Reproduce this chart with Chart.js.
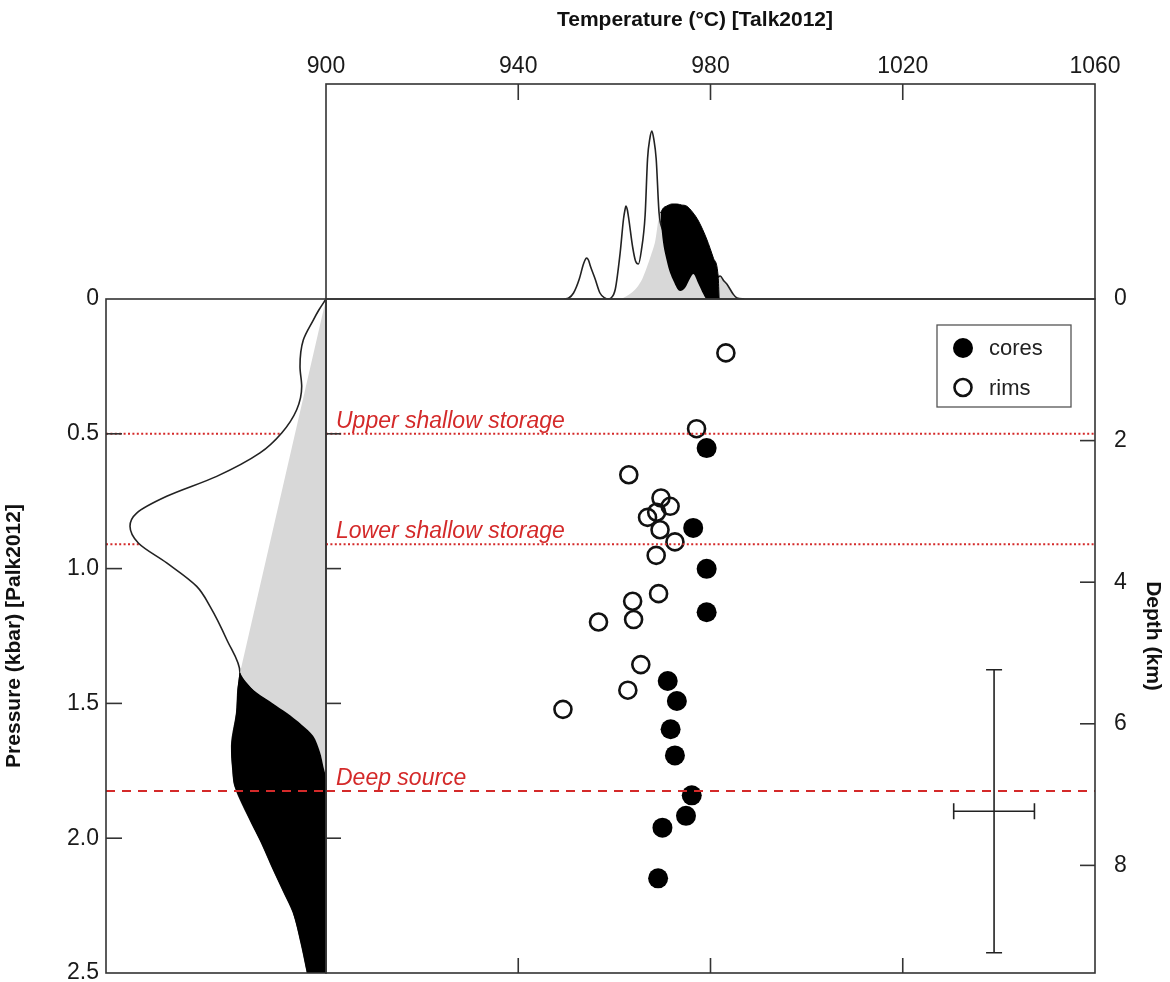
<!DOCTYPE html>
<html>
<head>
<meta charset="utf-8">
<script src="https://cdn.jsdelivr.net/npm/chart.js@4.4.0/dist/chart.umd.min.js"></script>
<style>
  body { margin: 0; background: #fff; }
  #wrap { position: relative; width: 1170px; height: 982px; }
  #wrap canvas { position: absolute; }
</style>
</head>
<body>
<div id="wrap">
  <canvas id="topChart" width="950" height="300" style="left:220px;top:0px"></canvas>
  <canvas id="leftChart" width="330" height="702" style="left:0px;top:280px"></canvas>
  <canvas id="mainChart" width="870" height="702" style="left:300px;top:280px"></canvas>
</div>
<script>
// axis ticks
const tempTicks = [900, 940, 980, 1020, 1060];
const pressureTicks = [0, 0.5, 1.0, 1.5, 2.0, 2.5];
const depthTicks = [0, 2, 4, 6, 8];
const depthMax = 9.52; // depth (km) at 2.5 kbar

// scatter points: temperature (°C) and pressure (kbar)
const coreT = [979.2, 976.4, 979.2, 979.2, 971.1, 973.0, 971.7, 972.6, 976.1, 974.9, 970.0, 969.1];
const coreP = [0.553, 0.849, 1.001, 1.162, 1.417, 1.491, 1.596, 1.693, 1.841, 1.917, 1.961, 2.149];
const rimT = [983.2, 977.1, 963.0, 969.7, 971.6, 966.9, 968.8, 969.5, 972.6, 968.7, 969.2, 963.8, 964.0, 956.7, 965.5, 962.8, 949.3];
const rimP = [0.200, 0.481, 0.652, 0.738, 0.769, 0.810, 0.791, 0.856, 0.901, 0.951, 1.093, 1.121, 1.189, 1.198, 1.356, 1.451, 1.522];

// storage levels (kbar)
const levelP = [0.5, 0.91, 1.825];
const levelNames = ['Upper shallow storage', 'Lower shallow storage', 'Deep source'];
const levelKind = ['dotted', 'dotted', 'dashed'];

// typical uncertainty: centre (°C, kbar) and half widths
const errCentre = [1039, 1.9];
const errHalf = [8.4, 0.525];

// top panel: temperature densities (height in panel units)
const rimDensT = [949.5, 950.5, 951.5, 952.7, 953.5, 953.9, 954.2, 954.6, 955.0, 956.0, 957.0, 958.0, 958.7, 959.3, 960.2, 961.2, 961.9, 962.2, 962.4, 962.7, 963.0, 963.8, 964.4, 965.0, 965.6, 966.4, 966.9, 967.4, 967.8, 968.2, 968.7, 969.3, 970.0, 972.0, 975.0, 978.0, 980.5, 981.5, 982.0, 982.8, 983.4, 984.7, 985.5, 987.0];
const rimDensH = [0, 1, 6, 20, 34, 39, 41, 39, 33, 20, 6, 1, 0, 1, 10, 46, 80, 89, 93, 89, 80, 52, 38, 35, 48, 84, 140, 161, 168, 160, 140, 86, 70, 58, 48, 35, 22, 22, 23, 18, 15, 5, 1, 0];
const coreDensT = [969.6, 970.2, 970.9, 972.0, 973.0, 974.0, 975.0, 976.4, 977.5, 979.2, 980.6, 981.6, 981.8];
const coreDensH = [86, 91, 93, 95, 95, 94, 93, 86, 78, 60, 41, 22, 0];
const coreBaseT = [969.6, 969.85, 970.9, 972.3, 973.7, 974.7, 975.8, 976.4, 977.5, 978.5, 979.2, 981.8];
const coreBaseH = [86, 68, 38, 18, 8, 11, 21, 25, 15, 5, 0, 0];
const allDensT = [961.5, 963.5, 964.6, 965.8, 966.7, 967.7, 968.5, 969.4, 971.0, 975.0, 979.0, 981.0, 982.0, 983.4, 984.7, 986.1];
const allDensH = [0, 6, 11, 20, 31, 45, 58, 85, 92, 90, 55, 30, 23, 15, 5, 0];

// left panel: pressure densities (width in panel units)
const rimPresP = [0, 0.04, 0.078, 0.152, 0.25, 0.325, 0.411, 0.497, 0.571, 0.658, 0.732, 0.794, 0.843, 0.905, 0.979, 1.066, 1.14, 1.263, 1.386, 1.45, 1.535, 1.658, 1.75, 1.806, 1.93, 2.02, 2.115, 2.2, 2.275, 2.385, 2.485, 2.5];
const rimPresW = [0, 7, 12.7, 22.7, 26, 24.3, 29.3, 44.3, 66, 109.3, 159.3, 189.3, 196, 187.7, 159.3, 129.3, 116, 99.3, 86, 88, 89.3, 94.3, 93, 91, 76, 64, 52.7, 42, 32.7, 25, 19.3, 18.5];
const corePresP = [1.386, 1.45, 1.535, 1.658, 1.75, 1.806, 1.93, 2.02, 2.115, 2.2, 2.275, 2.385, 2.485, 2.5];
const corePresW = [86, 88, 89.3, 94.3, 93, 91, 76, 64, 52.7, 42, 32.7, 25, 19.3, 18.5];
const coreEdgeP = [1.386, 1.42, 1.46, 1.5, 1.535, 1.58, 1.621, 1.68, 1.732, 1.781, 2.5];
const coreEdgeW = [86, 80, 69.3, 53, 39.3, 24, 12.7, 6, 2.7, 0, 0];
const allPresP = [0, 1.386, 1.42, 1.46, 1.5, 1.535, 1.58, 1.621, 1.68, 1.732, 1.781];
const allPresW = [0, 86, 80, 69.3, 53, 39.3, 24, 12.7, 6, 2.7, 0];

const FONT = "'Liberation Sans', Arial, Helvetica, sans-serif";
const AXIS = '#333';
const RED = '#d42a2a';
const GREY = '#d8d8d8';
Chart.defaults.font.family = FONT;
Chart.defaults.color = '#1a1a1a';

function pts(xs, ys) {
    return xs.map((x, i) => ({x: x, y: ys[i]}));
}

// keep plot areas exactly where the layout padding puts them
function noPad(s) {
    s.paddingTop = 0;
    s.paddingBottom = 0;
    s.paddingLeft = 0;
    s.paddingRight = 0;
}

// box round the plot area plus ticks pointing inwards
function makeFrame(tickSpecs) {
    return {
        id: 'frame',
        afterDraw(chart) {
            const a = chart.chartArea, ctx = chart.ctx;
            ctx.save();
            ctx.strokeStyle = AXIS;
            ctx.lineWidth = 1.6;
            ctx.strokeRect(a.left, a.top, a.right - a.left, a.bottom - a.top);
            tickSpecs.forEach(t => {
                const s = chart.scales[t.scale];
                t.values.forEach(v => {
                    const p = s.getPixelForValue(v);
                    ctx.beginPath();
                    if (t.side === 'top') { ctx.moveTo(p, a.top); ctx.lineTo(p, a.top + t.len); }
                    else if (t.side === 'bottom') { ctx.moveTo(p, a.bottom); ctx.lineTo(p, a.bottom - t.len); }
                    else if (t.side === 'left') { ctx.moveTo(a.left, p); ctx.lineTo(a.left + t.len, p); }
                    else { ctx.moveTo(a.right, p); ctx.lineTo(a.right - t.len, p); }
                    ctx.stroke();
                });
            });
            ctx.restore();
        }
    };
}

function drawLevel(chart, i, withLabel) {
    const a = chart.chartArea, ctx = chart.ctx;
    const y = chart.scales.y.getPixelForValue(levelP[i]);
    ctx.save();
    ctx.strokeStyle = RED;
    ctx.lineWidth = 2;
    ctx.setLineDash(levelKind[i] === 'dashed' ? [9, 7] : [2, 2.4]);
    ctx.beginPath();
    ctx.moveTo(a.left, y);
    ctx.lineTo(a.right, y);
    ctx.stroke();
    if (withLabel) {
        ctx.setLineDash([]);
        ctx.fillStyle = RED;
        ctx.font = 'italic 23px ' + FONT;
        ctx.textBaseline = 'alphabetic';
        ctx.fillText(levelNames[i], a.left + 10, y - 6);
    }
    ctx.restore();
}

// left panel: dotted lines go under the densities, dashed one over them
const leftLevels = {
    id: 'leftLevels',
    beforeDatasetsDraw(chart) {
        levelP.forEach((p, i) => { if (levelKind[i] === 'dotted') drawLevel(chart, i, false); });
    },
    afterDatasetsDraw(chart) {
        levelP.forEach((p, i) => { if (levelKind[i] === 'dashed') drawLevel(chart, i, false); });
    }
};

const mainLevels = {
    id: 'mainLevels',
    afterDatasetsDraw(chart) {
        levelP.forEach((p, i) => drawLevel(chart, i, true));
    }
};

const errorCross = {
    id: 'errorCross',
    afterDatasetsDraw(chart) {
        const ctx = chart.ctx, xs = chart.scales.x, ys = chart.scales.y;
        const cx = xs.getPixelForValue(errCentre[0]);
        const cy = ys.getPixelForValue(errCentre[1]);
        const x0 = xs.getPixelForValue(errCentre[0] - errHalf[0]);
        const x1 = xs.getPixelForValue(errCentre[0] + errHalf[0]);
        const y0 = ys.getPixelForValue(errCentre[1] - errHalf[1]);
        const y1 = ys.getPixelForValue(errCentre[1] + errHalf[1]);
        const cap = 8;
        ctx.save();
        ctx.strokeStyle = '#222';
        ctx.lineWidth = 1.6;
        ctx.beginPath();
        ctx.moveTo(cx, y0); ctx.lineTo(cx, y1);
        ctx.moveTo(cx - cap, y0); ctx.lineTo(cx + cap, y0);
        ctx.moveTo(cx - cap, y1); ctx.lineTo(cx + cap, y1);
        ctx.moveTo(x0, cy); ctx.lineTo(x1, cy);
        ctx.moveTo(x0, cy - cap); ctx.lineTo(x0, cy + cap);
        ctx.moveTo(x1, cy - cap); ctx.lineTo(x1, cy + cap);
        ctx.stroke();
        ctx.restore();
    }
};

const legendBox = {
    id: 'legendBox',
    afterDraw(chart) {
        const a = chart.chartArea, ctx = chart.ctx;
        const L = a.right - 158, T = a.top + 26;
        ctx.save();
        ctx.strokeStyle = '#555';
        ctx.lineWidth = 1.3;
        ctx.strokeRect(L, T, 134, 82);
        ctx.font = '22px ' + FONT;
        ctx.textBaseline = 'middle';
        chart.data.datasets.forEach((ds, i) => {
            const cy = T + 23 + i * 39.5;
            ctx.beginPath();
            ctx.arc(L + 26, cy, ds.pointRadius, 0, Math.PI * 2);
            if (ds.borderWidth) {
                ctx.lineWidth = ds.borderWidth;
                ctx.strokeStyle = ds.borderColor;
                ctx.stroke();
            } else {
                ctx.fillStyle = ds.backgroundColor;
                ctx.fill();
            }
            ctx.fillStyle = '#222';
            ctx.fillText(ds.label, L + 52, cy + 1);
        });
        ctx.restore();
    }
};

const common = {
    responsive: false,
    animation: false,
    events: []
};

// top panel: temperature distributions
new Chart(document.getElementById('topChart'), {
    type: 'line',
    data: {
        datasets: [
            { label: 'cores', data: pts(coreDensT, coreDensH), fill: '+1', backgroundColor: '#000', borderColor: '#000', borderWidth: 1, pointRadius: 0, cubicInterpolationMode: 'monotone' },
            { label: 'cores base', data: pts(coreBaseT, coreBaseH), fill: false, borderWidth: 0, borderColor: 'rgba(0,0,0,0)', pointRadius: 0, cubicInterpolationMode: 'monotone' },
            { label: 'rims', data: pts(rimDensT, rimDensH), fill: false, borderColor: '#222', borderWidth: 1.6, pointRadius: 0, cubicInterpolationMode: 'monotone' },
            { label: 'all', data: pts(allDensT, allDensH), fill: 'origin', backgroundColor: GREY, borderWidth: 0, borderColor: 'rgba(0,0,0,0)', pointRadius: 0, cubicInterpolationMode: 'monotone' }
        ]
    },
    options: {
        ...common,
        layout: { autoPadding: false, padding: { left: 75, right: 75, top: 0, bottom: 1 } },
        plugins: {
            legend: { display: false },
            tooltip: { enabled: false },
            title: {
                display: true,
                text: 'Temperature (°C) [Talk2012]',
                color: '#111',
                font: { size: 21, weight: 'bold' },
                padding: { top: 8, bottom: 6 }
            }
        },
        scales: {
            x: {
                type: 'linear', position: 'top', min: 900, max: 1060,
                afterBuildTicks: s => { s.ticks = tempTicks.map(v => ({value: v})); },
                ticks: { font: { size: 23 }, color: '#1a1a1a', padding: 4, callback: v => String(v) },
                grid: { display: false, drawTicks: false },
                border: { display: false },
                afterFit: s => { s.height = 44.8; noPad(s); }
            },
            y: {
                type: 'linear', min: 0, max: 215,
                ticks: { display: false },
                grid: { display: false, drawTicks: false },
                border: { display: false },
                afterFit: s => { s.width = 31; noPad(s); }
            }
        }
    },
    plugins: [makeFrame([{ scale: 'x', side: 'top', len: 16, values: tempTicks.slice(1, -1) }])]
});

// left panel: pressure distributions
new Chart(document.getElementById('leftChart'), {
    type: 'line',
    data: {
        datasets: [
            { label: 'cores', data: pts(corePresW, corePresP), fill: '+1', backgroundColor: '#000', borderColor: '#000', borderWidth: 1, pointRadius: 0, tension: 0.3 },
            { label: 'cores edge', data: pts(coreEdgeW, coreEdgeP), fill: false, borderWidth: 0, borderColor: 'rgba(0,0,0,0)', pointRadius: 0, tension: 0.3 },
            { label: 'all', data: pts(allPresW, allPresP), fill: 'origin', backgroundColor: GREY, borderWidth: 0, borderColor: 'rgba(0,0,0,0)', pointRadius: 0, tension: 0 },
            { label: 'rims', data: pts(rimPresW, rimPresP), fill: 'origin', backgroundColor: '#fff', borderColor: '#222', borderWidth: 1.6, pointRadius: 0, cubicInterpolationMode: 'monotone' }
        ]
    },
    options: {
        ...common,
        indexAxis: 'y',
        layout: { autoPadding: false, padding: { left: 0, right: 4, top: 19, bottom: 9 } },
        plugins: { legend: { display: false }, tooltip: { enabled: false } },
        scales: {
            x: { type: 'linear', min: 0, max: 220, reverse: true, display: false },
            y: {
                type: 'linear', position: 'left', min: 0, max: 2.5, reverse: true,
                afterBuildTicks: s => { s.ticks = pressureTicks.map(v => ({value: v})); },
                ticks: {
                    font: { size: 23 }, color: '#1a1a1a', padding: 7,
                    callback: v => (v === 0 ? '0' : v.toFixed(1))
                },
                grid: { display: false, drawTicks: false },
                border: { display: false },
                title: {
                    display: true,
                    text: 'Pressure (kbar) [Palk2012]',
                    color: '#111',
                    font: { size: 21, weight: 'bold' },
                    padding: { top: 2, bottom: 0 }
                },
                afterFit: s => { s.width = 106; noPad(s); }
            }
        }
    },
    plugins: [leftLevels, makeFrame([{ scale: 'y', side: 'left', len: 16, values: pressureTicks.slice(1, -1) }])]
});

// main panel: cores and rims
new Chart(document.getElementById('mainChart'), {
    type: 'scatter',
    data: {
        datasets: [
            { label: 'cores', data: pts(coreT, coreP), pointRadius: 10, backgroundColor: '#000', borderColor: '#000', borderWidth: 0 },
            { label: 'rims', data: pts(rimT, rimP), pointRadius: 8.5, backgroundColor: 'rgba(255,255,255,0)', borderColor: '#111', borderWidth: 2.6 }
        ]
    },
    options: {
        ...common,
        layout: { autoPadding: false, padding: { left: 26, right: 0, top: 19, bottom: 9 } },
        plugins: { legend: { display: false }, tooltip: { enabled: false } },
        scales: {
            x: { type: 'linear', min: 900, max: 1060, display: false },
            y: { type: 'linear', min: 0, max: 2.5, reverse: true, display: false },
            y2: {
                type: 'linear', position: 'right', min: 0, max: depthMax, reverse: true,
                afterBuildTicks: s => { s.ticks = depthTicks.map(v => ({value: v})); },
                ticks: { font: { size: 23 }, color: '#1a1a1a', padding: 19 },
                grid: { display: false, drawTicks: false },
                border: { display: false },
                title: {
                    display: true,
                    text: 'Depth (km)',
                    color: '#111',
                    font: { size: 21, weight: 'bold' },
                    padding: { top: 5, bottom: 0 }
                },
                afterFit: s => { s.width = 75; noPad(s); }
            }
        }
    },
    plugins: [mainLevels, errorCross, legendBox, makeFrame([
        { scale: 'x', side: 'bottom', len: 15, values: tempTicks.slice(1, -1) },
        { scale: 'y', side: 'left', len: 15, values: pressureTicks.slice(1, -1) },
        { scale: 'y2', side: 'right', len: 15, values: depthTicks.slice(1) }
    ])]
});
</script>
</body>
</html>
